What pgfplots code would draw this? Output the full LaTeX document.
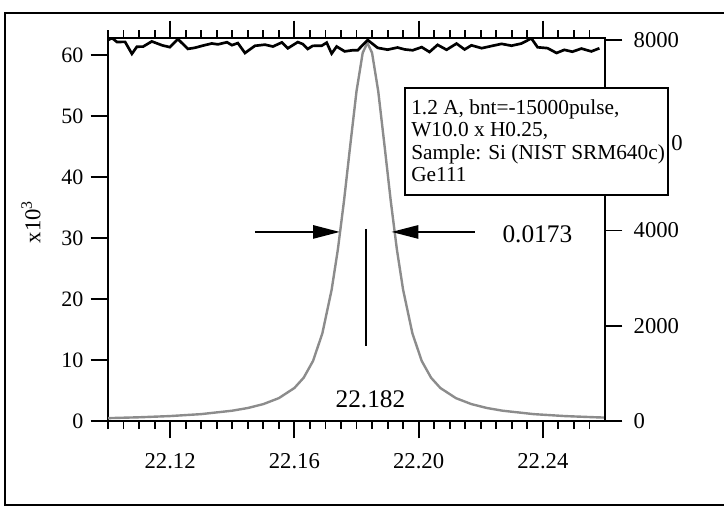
\documentclass[border=0pt]{standalone}
\usepackage{pgfplots}
\pgfplotsset{compat=1.18}
\usepackage{fontspec}
\setmainfont{Liberation Serif}
\usetikzlibrary{arrows.meta}

\pgfplotstableread{
x y
22.100 0.47
22.110 0.61
22.120 0.81
22.130 1.13
22.140 1.69
22.145 2.13
22.150 2.77
22.155 3.75
22.160 5.41
22.163 7.10
22.166 9.84
22.169 14.36
22.172 21.53
22.174 28.13
22.176 36.19
22.178 45.25
22.180 54.06
22.182 60.38
22.1835 62.0
22.185 60.38
22.187 54.06
22.189 45.25
22.191 36.19
22.193 28.13
22.195 21.53
22.198 14.36
22.201 9.84
22.204 7.10
22.207 5.41
22.212 3.75
22.217 2.77
22.222 2.13
22.227 1.69
22.237 1.13
22.247 0.81
22.257 0.61
22.260 0.56
}\peak

\pgfplotstableread{
x y
22.1000 7997
22.1013 8040
22.1029 7958
22.1055 7961
22.1077 7710
22.1093 7859
22.1113 7861
22.1141 7970
22.1174 7889
22.1199 7849
22.1225 8020
22.1257 7813
22.1280 7837
22.1305 7881
22.1334 7927
22.1354 7908
22.1383 7953
22.1399 7891
22.1418 7935
22.1441 7727
22.1473 7878
22.1505 7902
22.1531 7863
22.1560 7950
22.1579 7826
22.1611 7956
22.1627 7915
22.1643 7812
22.1659 7877
22.1688 7880
22.1704 7944
22.1720 7715
22.1736 7863
22.1762 7761
22.1788 7785
22.1804 7786
22.1836 8000
22.1868 7835
22.1900 7797
22.1932 7842
22.1955 7802
22.1981 7784
22.2010 7850
22.2035 7748
22.2061 7898
22.2090 7795
22.2122 7925
22.2148 7801
22.2170 7888
22.2203 7828
22.2235 7874
22.2267 7919
22.2299 7880
22.2331 7926
22.2363 8034
22.2383 7847
22.2415 7829
22.2444 7727
22.2469 7793
22.2495 7754
22.2524 7820
22.2556 7760
22.2582 7826
}\monitor

\pgfplotsset{
  commonaxis/.style={
    scale only axis, width=372.75pt, height=287.25pt,
    at={(81pt,70.5pt)}, anchor=south west,
    xmin=22.10, xmax=22.26,
    axis line style={line width=1.6pt},
    tick align=outside,
    major tick length=13pt, minor tick length=6pt,
    every tick/.style={black, line width=1.4pt},
    /pgf/number format/assume math mode=true,
    clip mode=individual,
  }
}

\begin{document}
\begin{tikzpicture}[x=0.75pt,y=0.75pt]
\useasboundingbox (0,0) rectangle (724,515);

\begin{axis}[commonaxis,
  ymin=0, ymax=62.8,
  xtick={22.12,22.16,22.20,22.24},
  xticklabels={22.12,22.16,22.20,22.24},
  minor xtick={22.100,22.105,22.110,22.115,22.125,22.130,22.135,22.140,22.145,22.150,22.155,22.165,22.170,22.175,22.180,22.185,22.190,22.195,22.205,22.210,22.215,22.220,22.225,22.230,22.235,22.245,22.250,22.255},
  ytick={0,10,20,30,40,50,60},
  ytick pos=left,
  x tick label style={font=\fontsize{17}{20}\selectfont, yshift=-8pt},
  y tick label style={font=\fontsize{16.5}{20}\selectfont, xshift=-2pt},
]
\addplot[color={rgb,255:red,140;green,140;blue,140}, line width=1.8pt] table[x=x,y=y] {\peak};
\draw[line width=1.2pt, -{Triangle[length=20pt,width=10pt]}] (axis cs:22.1473,31) -- (axis cs:22.1746,31);
\draw[line width=1.2pt, -{Triangle[length=20pt,width=10pt]}] (axis cs:22.2180,31) -- (axis cs:22.1913,31);
\draw[line width=1.3pt] (axis cs:22.183,31.5) -- (axis cs:22.183,12.3);
\node[font=\fontsize{19}{22}\selectfont, anchor=west] at (axis cs:22.2255,30.6) {0.0173};
\node[font=\fontsize{19}{22}\selectfont] at (axis cs:22.1845,3.6) {22.182};
\end{axis}

\begin{axis}[commonaxis,
  ymin=0, ymax=8042,
  axis y line*=right, axis x line=none,
  ytick={0,2000,4000,6000,8000},
  yticklabels={0,2000,4000,{},8000},
  scaled y ticks=false,
  y tick label style={font=\fontsize{17}{20}\selectfont, xshift=5pt},
]
\addplot[black, line width=2pt] table[x=x,y=y] {\monitor};
\end{axis}

\draw[fill=white, line width=1.4pt] (405,320) rectangle (668,427);
\node[anchor=north west, align=left, inner sep=0pt, font=\fontsize{16}{16.9}\selectfont] at (411,416)
  {1.2 A, bnt=-15000pulse,\\W10.0 x H0.25,\\Sample: Si (NIST SRM640c)\\Ge111};
\node[font=\fontsize{17}{20}\selectfont] at (677,372) {0};

\node[rotate=90, font=\fontsize{17}{20}\selectfont] at (31,293) {x10\textsuperscript{3}};

\draw[line width=1.8pt] (780,502) -- (5,502) -- (5,10) -- (780,10);
\end{tikzpicture}
\end{document}
